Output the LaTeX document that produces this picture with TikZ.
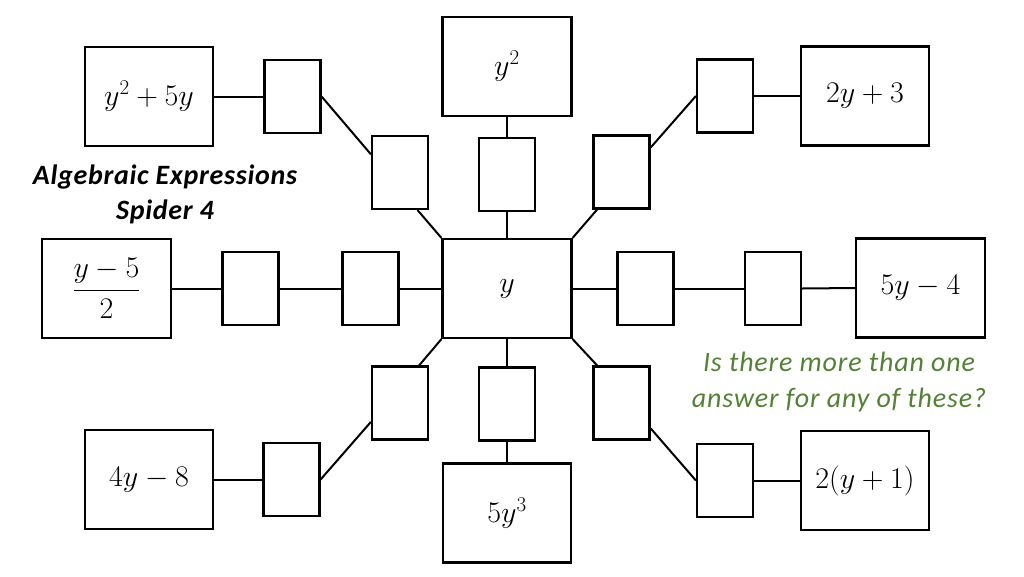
\RequirePackage{fix-cm}
\documentclass[tikz,border=0pt]{standalone}
\usepackage{amsmath}
\usepackage[no-math]{fontspec}
\setmainfont{Carlito}
\newfontfamily\titlefont[LetterSpace=2.5]{Carlito}
\newfontfamily\notefont[LetterSpace=3]{Carlito}
\definecolor{qgreen}{RGB}{83,129,53}
\tikzset{
  big/.style={draw, line width=2.2pt, minimum width=128pt, minimum height=99pt, inner sep=0pt, font=\fontsize{30}{34}\selectfont},
  small/.style={draw, line width=2.2pt, minimum width=56pt, minimum height=73pt, inner sep=0pt},
  link/.style={line width=2pt},
}
\begin{document}
\begin{tikzpicture}[x=1pt,y=-1pt]
\useasboundingbox (0,0) rectangle (1024,576);
% center
\node[big, minimum width=129pt] (c) at (507,288.5) {$y$};
% big boxes
\node[big, minimum width=129pt] (top) at (507,66.5) {$y^2$};
\node[big] (tl) at (149,96.5) {$y^2+5y$};
\node[big] (tr) at (865,96) {$2y+3$};
\node[big, minimum width=129pt] (l) at (106.5,288.5) {$\dfrac{y-5}{2}$};
\node[big, minimum width=129pt] (r) at (920.5,288) {$5y-4$};
\node[big] (bl) at (149,479.5) {$4y-8$};
\node[big] (b) at (507,513) {$5y^3$};
\node[big] (br) at (865,480.5) {$2(y+1)$};
% small boxes
\node[small] (t1) at (507,174.5) {};
\node[small] (tla) at (400,172.5) {};
\node[small] (tlb) at (292.5,96.5) {};
\node[small] (tra) at (621.5,172) {};
\node[small] (trb) at (725,96) {};
\node[small] (la) at (370.5,288.5) {};
\node[small] (lb) at (250.5,288.5) {};
\node[small] (ra) at (645.5,288.5) {};
\node[small] (rb) at (773,288.5) {};
\node[small] (bla) at (400,403) {};
\node[small] (blb) at (291.5,479.5) {};
\node[small] (b1) at (507,404) {};
\node[small] (bra) at (621.5,403) {};
\node[small] (brb) at (725,480.5) {};
% connectors
\draw[link] (top.south) -- (t1.north);
\draw[link] (t1.south) -- (c.north);
\draw[link] (c.south) -- (b1.north);
\draw[link] (b1.south) -- (b.north);
\draw[link] (l.east) -- (lb.west);
\draw[link] (lb.east) -- (la.west);
\draw[link] (la.east) -- (c.west);
\draw[link] (c.east) -- (ra.west);
\draw[link] (ra.east) -- (rb.west);
\draw[link] (rb.east) -- (r.west);
\draw[link] (c.north west) -- (tla.-65);
\draw[link] (tla.148) -- (tlb.east);
\draw[link] (tlb.west) -- (tl.east);
\draw[link] (c.north east) -- (tra.-123);
\draw[link] (tra.40) -- (trb.west);
\draw[link] (trb.east) -- (tr.west);
\draw[link] (c.south west) -- (bla.63);
\draw[link] (bla.-147) -- (blb.east);
\draw[link] (blb.west) -- (bl.east);
\draw[link] (c.south east) -- (bra.123);
\draw[link] (bra.-41) -- (brb.west);
\draw[link] (brb.east) -- (br.west);
% texts
\node[font=\fontsize{28}{35}\titlefont\bfseries\itshape, align=center] (title) at (165,194.5) {Algebraic Expressions\\Spider 4};
\node[font=\fontsize{28}{36}\notefont\itshape, text=qgreen, align=center] (q) at (839,382) {Is there more than one\\answer for any of these?};
\end{tikzpicture}
\end{document}
